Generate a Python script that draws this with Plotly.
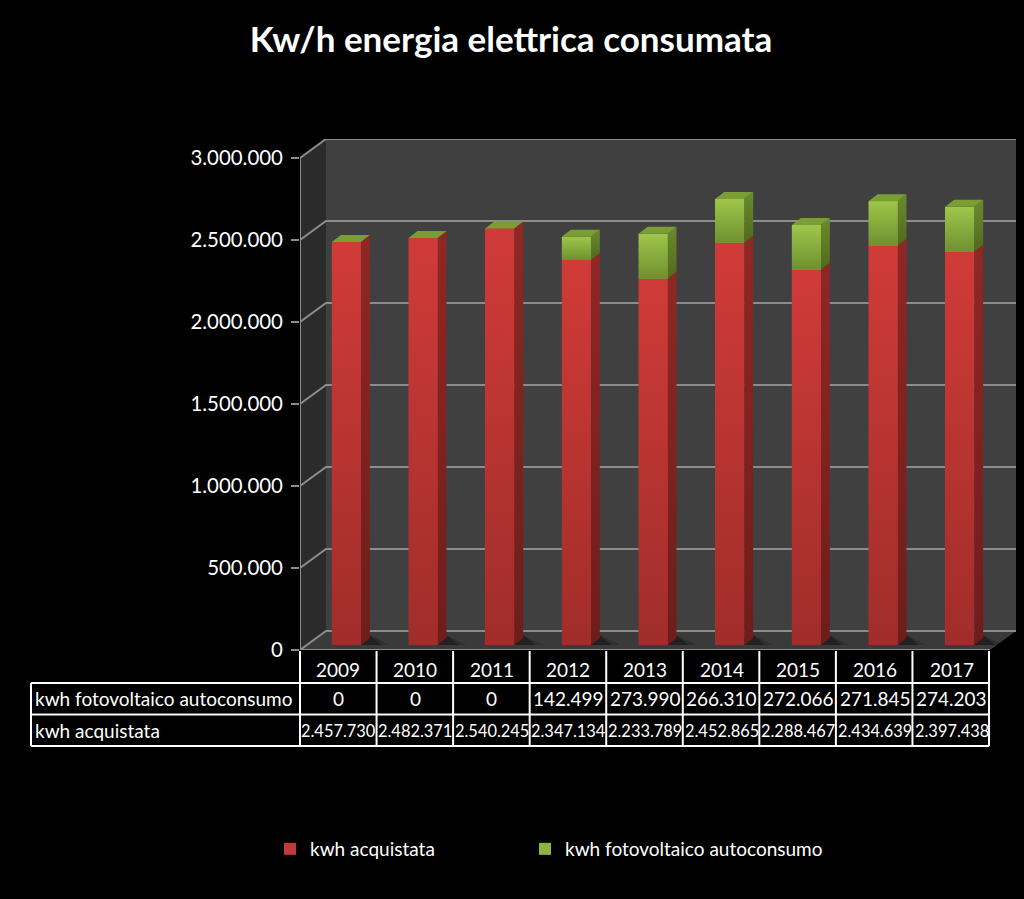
import plotly.graph_objects as go

years = [2009, 2010, 2011, 2012, 2013, 2014, 2015, 2016, 2017]
kwh_acquistata = [2457730, 2482371, 2540245, 2347134, 2233789, 2452865, 2288467, 2434639, 2397438]
kwh_fotovoltaico = [0, 0, 0, 142499, 273990, 266310, 272066, 271845, 274203]
y_ticks = [0, 500000, 1000000, 1500000, 2000000, 2500000, 3000000]
title_text = "Kw/h energia elettrica consumata"
name_acq = "kwh acquistata"
name_fv = "kwh fotovoltaico autoconsumo"

W, H = 1024, 899
FONT = "Lato"
TXT = "#ffffff"
GRID = "#8c8c8c"
PX_X = 690 / 9          # pixels per year
PX_Y = 492 / 3000000    # pixels per kWh
def dx(p): return p / PX_X
def dy(p): return p / PX_Y
def fx(p): return p / W
def fy(p): return 1 - p / H

fmt = lambda v: f"{v:,}".replace(",", ".")

x0 = years[0] - 0.5
x_end = x0 + dx(716)
y_end = dy(511)
x_last = years[-1] + 0.5
WALL_X, WALL_Y = dx(26), dy(19)
BAR_W = dx(29)
SIDE_X, SIDE_Y = dx(9), dy(7)

fig = go.Figure()

def poly(xs, ys, color, xa="x", ya="y", grad=None):
    t = dict(x=xs, y=ys, mode="lines", line=dict(width=0), fill="toself",
             hoverinfo="skip", showlegend=False, xaxis=xa, yaxis=ya)
    if grad:
        t["fillgradient"] = dict(type="vertical", colorscale=[[0, grad[0]], [1, grad[1]]])
    else:
        t["fillcolor"] = color
    fig.add_trace(go.Scatter(**t))

# walls and floor
poly([x0 + WALL_X, x_last + WALL_X, x_last + WALL_X, x0 + WALL_X],
     [WALL_Y, WALL_Y, y_ticks[-1] + WALL_Y, y_ticks[-1] + WALL_Y], "#404040")
poly([x0, x0 + WALL_X, x0 + WALL_X, x0], [0, WALL_Y, y_ticks[-1] + WALL_Y, y_ticks[-1]], "#2b2b2b")
poly([x0, x_last, x_last + WALL_X, x0 + WALL_X], [0, 0, WALL_Y, WALL_Y], "#3a3a3a")

# grid lines on the walls
gx, gy = [], []
for t in y_ticks:
    gx += [x0, x0 + WALL_X, x_last + WALL_X, None]
    gy += [t, t + WALL_Y, t + WALL_Y, None]
gx += [x0, x0, None, x0, x_last]
gy += [0, y_ticks[-1], None, 0, 0]
fig.add_trace(go.Scatter(x=gx, y=gy, mode="lines", line=dict(color=GRID, width=2),
                         hoverinfo="skip", showlegend=False))

# front faces
fig.add_trace(go.Bar(x=years, y=kwh_acquistata, name=name_acq, width=BAR_W, legend="legend",
                     marker=dict(color="#c23a37", line=dict(width=0)), xaxis="x2", yaxis="y2"))
fig.add_trace(go.Bar(x=years, y=kwh_fotovoltaico, name=name_fv, width=BAR_W, legend="legend2",
                     marker=dict(color="#8fb33f", line=dict(width=0)), xaxis="x2", yaxis="y2"))

# shadows, gradients, sides and tops, computed from the values
for yr, a, f in zip(years, kwh_acquistata, kwh_fotovoltaico):
    l, r = yr - BAR_W / 2, yr + BAR_W / 2
    t = a + f
    for extra, alpha in ((dx(20), 0.18), (dx(12), 0.28)):
        poly([r, r + SIDE_X + extra, r + SIDE_X, r], [0, 0, SIDE_Y * 1.4, SIDE_Y], f"rgba(0,0,0,{alpha})", "x2", "y2")
    poly([r, r + SIDE_X, r + SIDE_X, r], [0, SIDE_Y, a + SIDE_Y, a], "", "x2", "y2", ("#6e1d1b", "#8f2725"))
    poly([l, r, r, l], [0, 0, a, a], "", "x2", "y2", ("#a02d2a", "#d03b38"))
    if f:
        poly([r, r + SIDE_X, r + SIDE_X, r], [a, a + SIDE_Y, t + SIDE_Y, t], "", "x2", "y2", ("#50691f", "#6b8b2d"))
        poly([l, r, r, l], [a, a, t, t], "", "x2", "y2", ("#6f9030", "#9fc64b"))
    poly([l, r, r + SIDE_X, l + SIDE_X], [t, t, t + SIDE_Y, t + SIDE_Y], "#7a9e33", "x2", "y2")

shapes = []
annots = []
def line(x1, y1, x2, y2):
    shapes.append(dict(type="line", xref="paper", yref="paper", x0=fx(x1), x1=fx(x2), y0=fy(y1), y1=fy(y2),
                       line=dict(color="#ffffff", width=2), layer="above"))
TL, TR = 31, 989
R0, R1, R2, R3 = 651, 683, 714.5, 746
for yy in (R1, R2, R3):
    line(TL, yy, TR, yy)
line(TL, R1, TL, R3)
for i in range(len(years) + 1):
    xx = 300 + i * 689 / len(years)
    line(xx, R0, xx, R3)

def text(xv, xref, yp, s, anchor="center", size=19):
    annots.append(dict(x=xv, xref=xref, y=fy(yp), yref="paper", text=s, showarrow=False,
                       xanchor=anchor, yanchor="middle", font=dict(family=FONT, size=size, color=TXT)))
for yr, a, f in zip(years, kwh_acquistata, kwh_fotovoltaico):
    text(yr, "x", 669, str(yr))
    text(yr, "x", 698.5, fmt(f))
    text(yr, "x", 730.5, fmt(a), size=16.4)
text(fx(33), "paper", 698.5, name_fv, "left")
text(fx(33), "paper", 730.5, name_acq, "left")

legend_common = dict(orientation="h", y=fy(849), yanchor="middle", xanchor="left",
                     font=dict(family=FONT, size=19, color=TXT), bgcolor="rgba(0,0,0,0)")

fig.update_layout(
    width=W, height=H, margin=dict(l=0, r=0, t=0, b=0, autoexpand=False),
    paper_bgcolor="#000000", plot_bgcolor="rgba(0,0,0,0)",
    barmode="stack", bargap=0,
    title=dict(text=f"<b>{title_text}</b>", x=511 / W, xanchor="center", y=fy(40), yanchor="middle",
               font=dict(family=FONT, size=35, color=TXT)),
    font=dict(family=FONT, color=TXT),
    xaxis=dict(domain=[fx(300), fx(1016)], range=[x0, x_end], visible=False),
    yaxis=dict(domain=[fy(650), fy(139)], range=[0, y_end], tickvals=y_ticks, ticktext=[fmt(v) for v in y_ticks],
               showgrid=False, zeroline=False, showline=False, ticks="outside", ticklen=8, tickwidth=2,
               tickcolor=GRID, tickfont=dict(family=FONT, size=20.4, color=TXT), ticklabelstandoff=4),
    xaxis2=dict(domain=[fx(308), fx(1024)], range=[x0, x_end], visible=False, anchor="y2"),
    yaxis2=dict(domain=[fy(645), fy(134)], range=[0, y_end], visible=False, anchor="x2"),
    legend=dict(x=fx(270), **legend_common),
    legend2=dict(x=fx(525), **legend_common),
    shapes=shapes, annotations=annots, hovermode=False,
)
fig.write_html("out.html", config={"displayModeBar": False},
               post_script="document.body.style.margin='0';document.body.style.background='#000';")
